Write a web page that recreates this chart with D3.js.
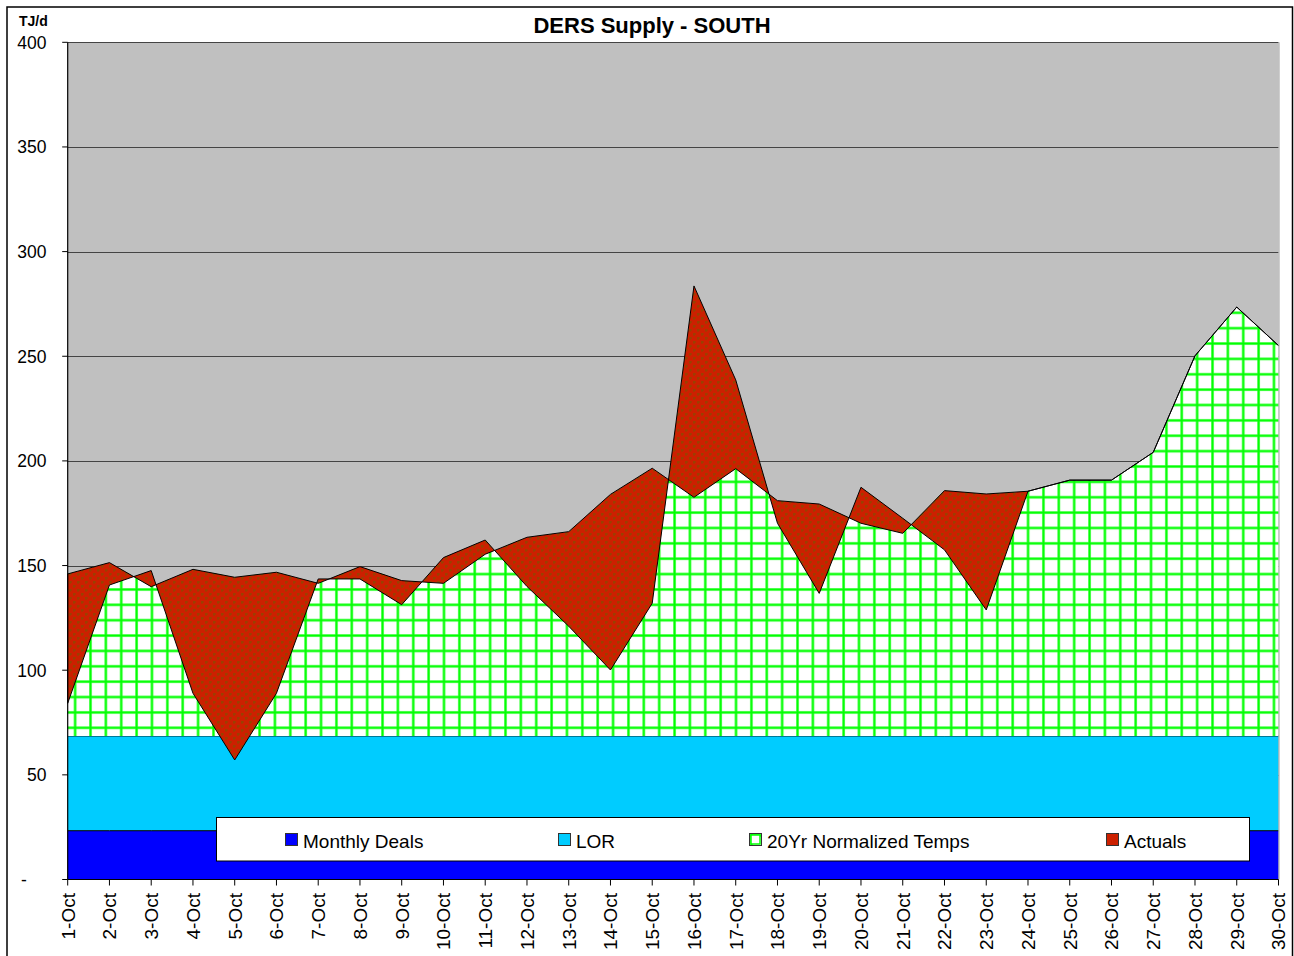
<!DOCTYPE html>
<html>
<head>
<meta charset="utf-8">
<script src="https://cdn.jsdelivr.net/npm/d3@7"></script>
<style>
  html, body { margin: 0; padding: 0; background: #fff; }
  svg { display: block; }
  text { font-family: "Liberation Sans", Arial, sans-serif; fill: #000; }
</style>
</head>
<body>
<svg id="chart" width="1294" height="956"></svg>
<script>
const categories = ["1-Oct","2-Oct","3-Oct","4-Oct","5-Oct","6-Oct","7-Oct","8-Oct","9-Oct","10-Oct",
  "11-Oct","12-Oct","13-Oct","14-Oct","15-Oct","16-Oct","17-Oct","18-Oct","19-Oct","20-Oct",
  "21-Oct","22-Oct","23-Oct","24-Oct","25-Oct","26-Oct","27-Oct","28-Oct","29-Oct","30-Oct"];

const monthlyDeals = [23.3,23.3,23.3,23.3,23.3,23.3,23.3,23.3,23.3,23.3,23.3,23.3,23.3,23.3,23.3,
  23.3,23.3,23.3,23.3,23.3,23.3,23.3,23.3,23.3,23.3,23.3,23.3,23.3,23.3,23.3];

const lor = [45.3,45.3,45.3,45.3,45.3,45.3,45.3,45.3,45.3,45.3,45.3,45.3,45.3,45.3,45.3,
  45.3,45.3,45.3,45.3,45.3,45.3,45.3,45.3,45.3,45.3,45.3,45.3,45.3,45.3,45.3];

// total level (TJ/d) of the 20Yr normalized temps line
const normalized = [146.0,151.4,139.9,148.2,144.4,146.8,141.5,149.5,142.8,141.5,
  155.4,163.5,166.2,184.0,196.5,182.6,196.3,181.0,179.4,170.2,
  165.4,185.8,184.2,185.5,190.8,190.8,204.1,250.2,273.5,255.1];

// total level (TJ/d) of actuals; null = not yet available
const actuals = [84.2,140.7,147.6,89.0,57.1,89.0,143.6,143.6,131.3,153.8,
  162.2,140.0,121.0,100.1,132.0,283.6,238.7,170.2,136.7,187.4,
  172.6,157.5,128.8,null,null,null,null,null,null,null];

const yTicks = [0,50,100,150,200,250,300,350,400];
const yTickLabels = ["-","50","100","150","200","250","300","350","400"];

const legendItems = ["Monthly Deals","LOR","20Yr Normalized Temps","Actuals"];

const svg = d3.select("#chart");
const plot = {left: 67.7, right: 1278.5, top: 42.3, bottom: 879.5};

const x = d3.scalePoint().domain(categories).range([plot.left, plot.right]);
const y = d3.scaleLinear().domain([0, 400]).range([plot.bottom, plot.top]);

// patterns
const defs = svg.append("defs");
const gs = 15.37;
const gp = defs.append("pattern").attr("id","greenGrid").attr("patternUnits","userSpaceOnUse")
  .attr("x", 89).attr("y", 726.3).attr("width", gs).attr("height", gs);
gp.append("rect").attr("width", gs).attr("height", gs).attr("fill", "#fff");
gp.append("rect").attr("x", 0).attr("y", 0).attr("width", 3).attr("height", gs).attr("fill", "#9dff9d");
gp.append("rect").attr("x", 0).attr("y", 0).attr("width", gs).attr("height", 3).attr("fill", "#9dff9d");
gp.append("rect").attr("x", 0.5).attr("y", 0).attr("width", 2).attr("height", gs).attr("fill", "#00ff00");
gp.append("rect").attr("x", 0).attr("y", 0.5).attr("width", gs).attr("height", 2).attr("fill", "#00ff00");

const rp = defs.append("pattern").attr("id","redDots").attr("patternUnits","userSpaceOnUse")
  .attr("width", 8).attr("height", 8);
rp.append("rect").attr("width", 8).attr("height", 8).attr("fill", "#cc2000");
[[2,2],[6,6]].forEach(([cx,cy]) => {
  rp.append("rect").attr("x", cx-1).attr("y", cy-0.5).attr("width", 3).attr("height", 1).attr("fill", "#8a4a00");
  rp.append("rect").attr("x", cx-0.5).attr("y", cy-1).attr("width", 1).attr("height", 3).attr("fill", "#8a4a00");
});

// outer frame
svg.append("rect").attr("x", 7).attr("y", 7).attr("width", 1285.5).attr("height", 960)
  .attr("fill", "#fff").attr("stroke", "#000").attr("stroke-width", 1.5);

// plot background
svg.append("rect").attr("x", plot.left).attr("y", plot.top)
  .attr("width", plot.right - plot.left).attr("height", plot.bottom - plot.top)
  .attr("fill", "#c0c0c0");

// gridlines
svg.append("g").selectAll("line").data(yTicks.filter(d => d > 0)).join("line")
  .attr("x1", plot.left).attr("x2", plot.right)
  .attr("y1", d => Math.round(y(d)) + 0.5).attr("y2", d => Math.round(y(d)) + 0.5)
  .attr("stroke", "#444").attr("stroke-width", 1);

// stacked base series
const idx = d3.range(categories.length);
const dealsTop = idx.map(i => monthlyDeals[i]);
const lorTop = idx.map(i => monthlyDeals[i] + lor[i]);

const areaGen = (lo, hi) => d3.area()
  .x(i => x(categories[i]))
  .y0(i => y(lo(i)))
  .y1(i => y(hi(i)));

svg.append("path").datum(idx)
  .attr("d", areaGen(i => 0, i => dealsTop[i]))
  .attr("fill", "#0000ff");
svg.append("path").datum(idx)
  .attr("d", areaGen(i => dealsTop[i], i => lorTop[i]))
  .attr("fill", "#00ccff");
const topLine = (vals) => d3.line().x(i => x(categories[i])).y(i => y(vals[i]));
svg.append("path").datum(idx).attr("d", topLine(dealsTop))
  .attr("fill", "none").attr("stroke", "#000").attr("stroke-width", 1);
svg.append("path").datum(idx).attr("d", topLine(lorTop))
  .attr("fill", "none").attr("stroke", "#000").attr("stroke-width", 1);

// 20Yr normalized area
svg.append("path").datum(idx)
  .attr("d", areaGen(i => lorTop[i], i => normalized[i]))
  .attr("fill", "url(#greenGrid)");

// Actuals (difference from normalized, stacked on top)
svg.append("path").datum(idx)
  .attr("d", areaGen(i => normalized[i], i => actuals[i] == null ? normalized[i] : actuals[i]))
  .attr("fill", "url(#redDots)").attr("stroke", "#000").attr("stroke-width", 1)
  .attr("stroke-linejoin", "round");

// plot right border
svg.append("line").attr("x1", plot.right + 0.5).attr("x2", plot.right + 0.5)
  .attr("y1", plot.top).attr("y2", plot.bottom).attr("stroke", "#a0a0a0");

// y axis
const yAxis = svg.append("g");
yAxis.append("line").attr("x1", plot.left).attr("x2", plot.left)
  .attr("y1", plot.top).attr("y2", plot.bottom).attr("stroke", "#000").attr("stroke-width", 1.2);
yAxis.selectAll("line.tick").data(yTicks).join("line").attr("class","tick")
  .attr("x1", plot.left - 5.5).attr("x2", plot.left)
  .attr("y1", d => y(d)).attr("y2", d => y(d)).attr("stroke", "#000");
yAxis.selectAll("text").data(yTicks).join("text")
  .attr("x", (d) => d === 0 ? 21 : 46.5)
  .attr("y", d => y(d))
  .attr("dy", "0.36em")
  .attr("text-anchor", (d) => d === 0 ? "start" : "end")
  .style("font-size", "17.5px")
  .text((d, i) => yTickLabels[i]);

// x axis
const xAxis = svg.append("g");
xAxis.append("line").attr("x1", plot.left).attr("x2", plot.right)
  .attr("y1", plot.bottom).attr("y2", plot.bottom).attr("stroke", "#000").attr("stroke-width", 1.2);
xAxis.selectAll("line.tick").data(categories).join("line").attr("class","tick")
  .attr("x1", d => x(d)).attr("x2", d => x(d))
  .attr("y1", plot.bottom).attr("y2", plot.bottom + 6).attr("stroke", "#000");
xAxis.selectAll("text").data(categories).join("text")
  .attr("transform", d => `translate(${x(d)},893) rotate(-90)`)
  .attr("text-anchor", "end")
  .attr("dy", "0.36em")
  .style("font-size", "19px")
  .text(d => d);

// title
svg.append("text").attr("x", 652).attr("y", 33).attr("text-anchor", "middle")
  .style("font-size", "22px").style("font-weight", "bold")
  .text("DERS Supply - SOUTH");
svg.append("text").attr("x", 19).attr("y", 26)
  .style("font-size", "14px").style("font-weight", "bold")
  .text("TJ/d");

// legend
const lg = svg.append("g");
lg.append("rect").attr("x", 216.5).attr("y", 817.5).attr("width", 1033).attr("height", 43.5)
  .attr("fill", "#fff").attr("stroke", "#000").attr("stroke-width", 1);
const legendX = [285, 558, 749, 1106];
const legendFill = ["#0000ff", "#00ccff", "url(#greenGrid)", "#cc2000"];
legendItems.forEach((name, i) => {
  lg.append("rect").attr("x", legendX[i] + 0.5).attr("y", 833.5).attr("width", 12).attr("height", 12)
    .attr("fill", legendFill[i]).attr("stroke", "#333").attr("stroke-width", 1);
  if (i === 2) {
    lg.append("rect").attr("x", legendX[i] + 2).attr("y", 835).attr("width", 9).attr("height", 9)
      .attr("fill", "#fff").attr("stroke", "#00ff00").attr("stroke-width", 1.5);
  }
  lg.append("text").attr("x", legendX[i] + 18).attr("y", 847.5)
    .style("font-size", "19px").text(name);
});
</script>
</body>
</html>
